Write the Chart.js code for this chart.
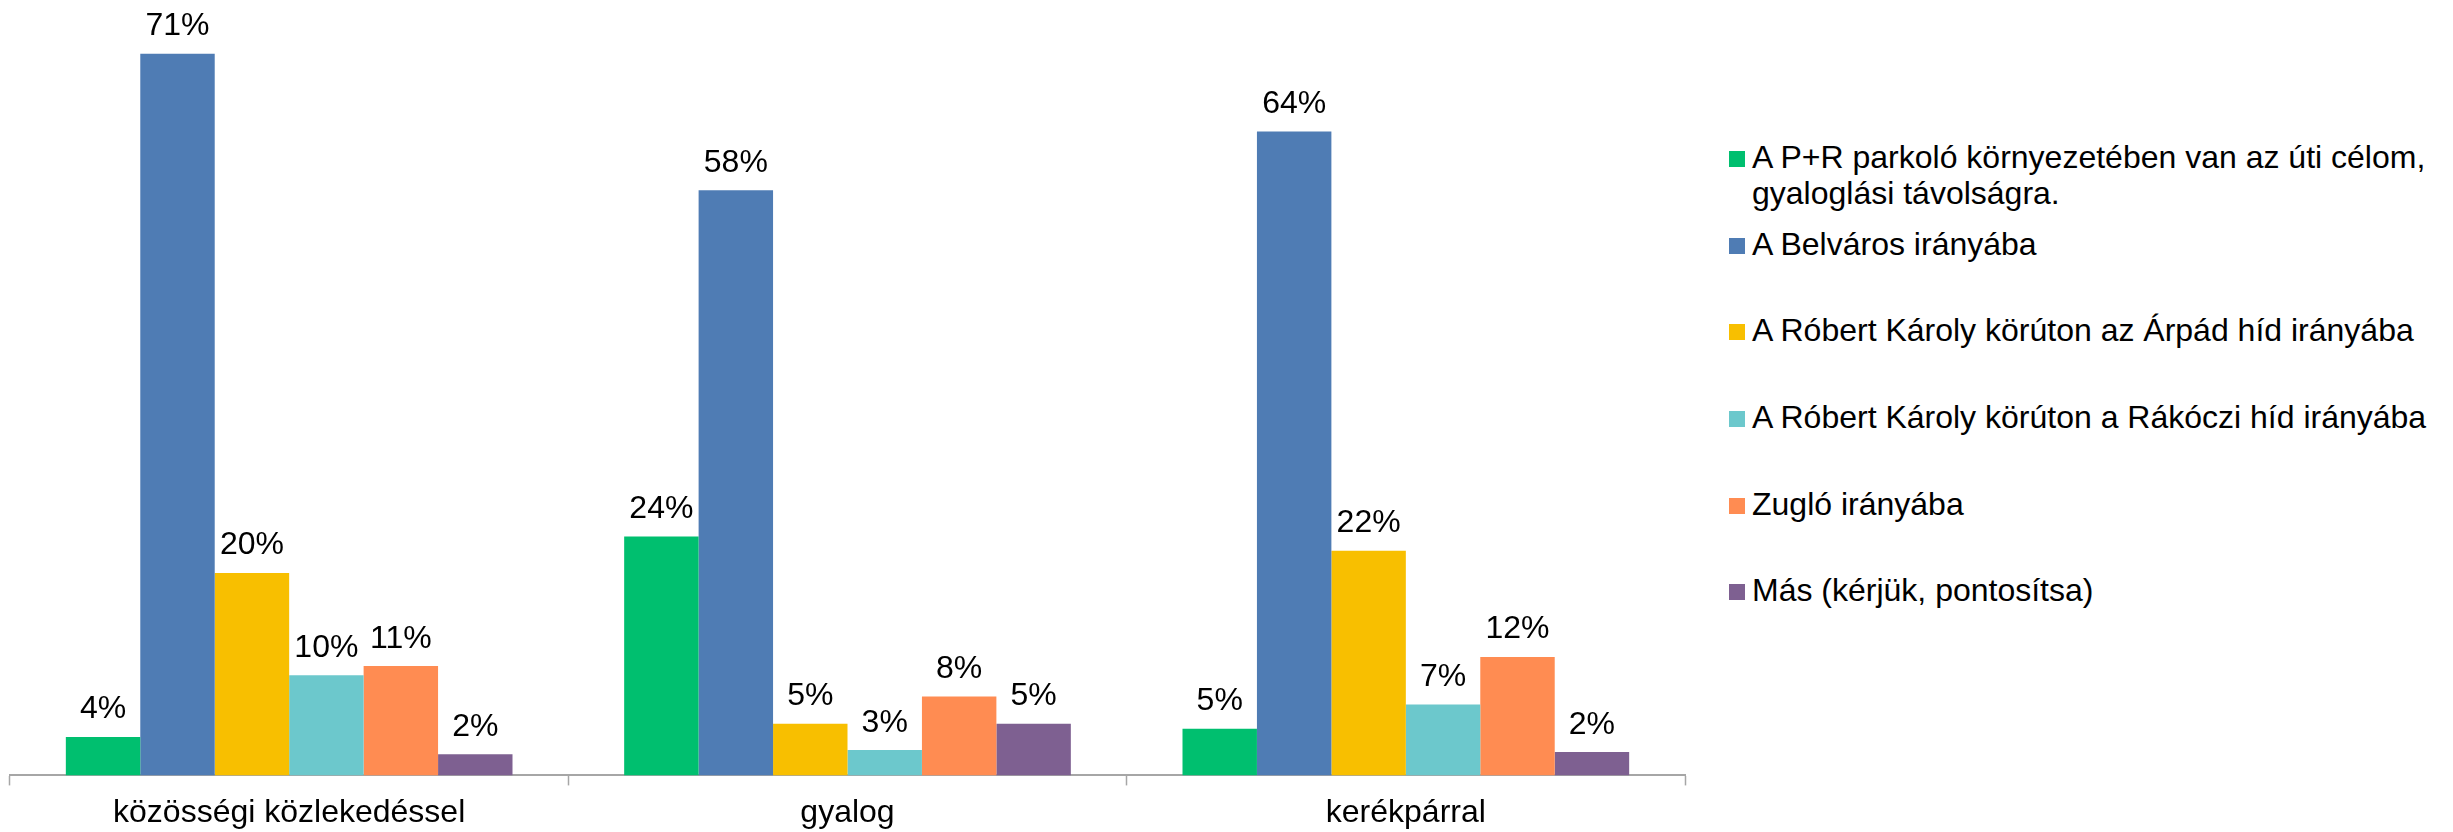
<!DOCTYPE html>
<html>
<head>
<meta charset="utf-8">
<script src="https://cdn.jsdelivr.net/npm/chart.js@4.4.0/dist/chart.umd.min.js"></script>
<style>
    body { margin: 0; background: #fff; }
    #wrap { position: relative; width: 2453px; height: 832px; overflow: hidden; }
    #chart { position: absolute; left: 0; top: 0; }
    #legend { position: absolute; left: 1729px; top: 0; width: 724px; height: 832px;
              font-family: "Liberation Sans", Arial, sans-serif; font-size: 32px; color: #000; }
    .item { position: absolute; left: 0; width: 720px; line-height: 36px; }
    .box { position: absolute; left: 0; top: 12px; width: 16px; height: 16px; }
    .txt { margin-left: 23px; width: 690px; }
</style>
</head>
<body>
<div id="wrap">
    <canvas id="chart" width="1700" height="832"></canvas>
    <div id="legend"></div>
</div>
<script>
// categories and series (percent of respondents)
const categories = ["közösségi közlekedéssel", "gyalog", "kerékpárral"];

const seriesNames = [
    "A P+R parkoló környezetében van az úti célom, gyaloglási távolságra.",
    "A Belváros irányába",
    "A Róbert Károly körúton az Árpád híd irányába",
    "A Róbert Károly körúton a Rákóczi híd irányába",
    "Zugló irányába",
    "Más (kérjük, pontosítsa)"
];

const seriesColors = ["#00BF6F", "#4F7CB4", "#F8BF00", "#6CC8CC", "#FF8C52", "#7E6091"];

const parkAndRide = [3.8, 23.6, 4.6];
const belvaros    = [71.3, 57.8, 63.6];
const arpadHid    = [20.0, 5.1, 22.2];
const rakocziHid  = [9.9, 2.5, 7.0];
const zuglo       = [10.8, 7.8, 11.7];
const mas         = [2.1, 5.1, 2.3];

const seriesValues = [parkAndRide, belvaros, arpadHid, rakocziHid, zuglo, mas];

const fontFamily = '"Liberation Sans", Arial, sans-serif';

// draws the % value above every bar
const valueLabels = {
    id: "valueLabels",
    afterDatasetsDraw(chart) {
        const ctx = chart.ctx;
        ctx.save();
        ctx.font = "32px " + fontFamily;
        ctx.fillStyle = "#000";
        ctx.textAlign = "center";
        ctx.textBaseline = "alphabetic";
        chart.data.datasets.forEach((ds, i) => {
            chart.getDatasetMeta(i).data.forEach((bar, j) => {
                ctx.fillText(Math.round(ds.data[j]) + "%", bar.x, bar.y - 18.5);
            });
        });
        ctx.restore();
    }
};

new Chart(document.getElementById("chart"), {
    type: "bar",
    data: {
        labels: categories,
        datasets: seriesNames.map((name, i) => ({
            label: name,
            data: seriesValues[i],
            backgroundColor: seriesColors[i],
            borderWidth: 0,
            barPercentage: 1.0,
            categoryPercentage: 0.8
        }))
    },
    options: {
        responsive: false,
        animation: false,
        devicePixelRatio: 1,
        layout: { padding: { left: 10, right: 15, top: 0, bottom: -9 } },
        plugins: {
            legend: { display: false },
            tooltip: { enabled: false }
        },
        scales: {
            y: {
                display: false,
                min: 0,
                max: 76.6
            },
            x: {
                border: { display: true, color: "#A6A6A6", width: 2 },
                grid: {
                    offset: true,
                    drawOnChartArea: false,
                    drawTicks: true,
                    tickLength: 10,
                    tickColor: "#A6A6A6",
                    tickWidth: 1.5
                },
                ticks: {
                    color: "#000",
                    padding: 8.6,
                    font: { family: fontFamily, size: 32 }
                }
            }
        }
    },
    plugins: [valueLabels]
});

// legend built from the series names/colours
const legendTops = [139, 226, 312, 399, 486, 572];
const legend = document.getElementById("legend");
seriesNames.forEach((name, i) => {
    const item = document.createElement("div");
    item.className = "item";
    item.style.top = legendTops[i] + "px";
    item.innerHTML = '<span class="box" style="background:' + seriesColors[i] + '"></span>' +
        '<div class="txt">' + name + '</div>';
    legend.appendChild(item);
});
</script>
</body>
</html>
